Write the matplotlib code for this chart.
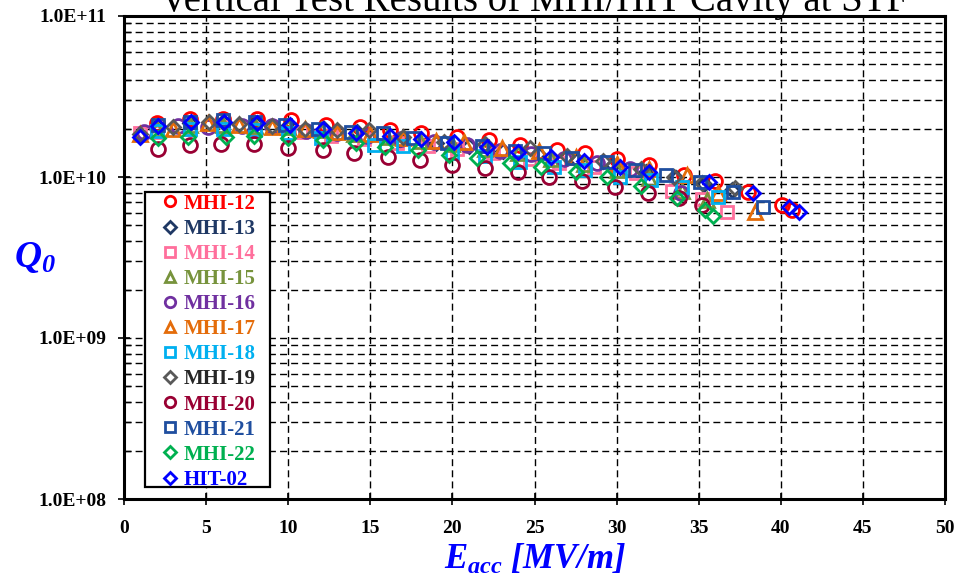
import numpy as np
import matplotlib
matplotlib.use("Agg")
import matplotlib.pyplot as plt
from matplotlib.patches import Rectangle
from matplotlib.ticker import FuncFormatter, LogLocator, MultipleLocator

plt.rcParams['font.family'] = ['Liberation Serif', 'DejaVu Serif']
plt.rcParams['mathtext.fontset'] = 'custom'
plt.rcParams['mathtext.it'] = 'Liberation Serif:bold:italic'
plt.rcParams['mathtext.rm'] = 'Liberation Serif:bold:italic'
plt.rcParams['mathtext.bf'] = 'Liberation Serif:bold:italic'

# data (E in MV/m, Q0)
labels = ["MHI-12", "MHI-13", "MHI-14", "MHI-15", "MHI-16", "MHI-17",
          "MHI-18", "MHI-19", "MHI-20", "MHI-21", "MHI-22", "HIT-02"]

e_mhi12 = [2.0, 4.0, 6.0, 8.1, 10.2, 12.3, 14.4, 16.2, 18.1, 20.3, 22.2, 24.1, 26.4, 28.1, 30.0, 32.0, 34.1, 36.0, 38.0, 40.1, 40.7]
q_mhi12 = [2.15e10, 2.3e10, 2.3e10, 2.3e10, 2.25e10, 2.1e10, 2.05e10, 1.97e10, 1.88e10, 1.78e10, 1.7e10, 1.57e10, 1.48e10, 1.4e10, 1.3e10, 1.19e10, 1.03e10, 9.5e9, 8.1e9, 6.7e9, 6.2e9]

e_mhi13 = [2.0, 4.0, 6.0, 8.0, 10.0, 12.2, 14.2, 16.8, 19.0, 21.0, 23.1, 25.2, 27.6, 29.8, 31.8, 33.6, 35.3, 37.0]
q_mhi13 = [2.08e10, 2.18e10, 2.2e10, 2.15e10, 2.08e10, 1.98e10, 1.9e10, 1.7e10, 1.62e10, 1.55e10, 1.45e10, 1.38e10, 1.28e10, 1.18e10, 1.08e10, 9.8e9, 9.0e9, 8.3e9]

e_mhi14 = [1.0, 2.0, 4.0, 6.0, 8.0, 10.8, 12.6, 14.6, 16.6, 18.5, 20.3, 22.5, 24.7, 26.5, 28.6, 31.2, 33.4, 35.2, 36.7]
q_mhi14 = [1.88e10, 1.9e10, 2.0e10, 2.05e10, 2.0e10, 1.9e10, 1.8e10, 1.72e10, 1.62e10, 1.55e10, 1.5e10, 1.4e10, 1.3e10, 1.22e10, 1.15e10, 1.06e10, 8.2e9, 7.3e9, 6.1e9]

e_mhi15 = [2.0, 4.0, 6.0, 8.0, 10.0, 12.0, 14.0, 16.0, 18.0, 20.0, 22.0, 24.0, 26.0, 28.0, 30.0, 32.0, 34.0, 35.5]
q_mhi15 = [2.0e10, 2.1e10, 2.1e10, 2.08e10, 2.03e10, 1.95e10, 1.85e10, 1.76e10, 1.68e10, 1.6e10, 1.5e10, 1.4e10, 1.3e10, 1.2e10, 1.1e10, 9.8e9, 8.2e9, 7.2e9]

e_mhi16 = [1.2, 3.3, 5.1, 7.2, 9.0, 11.1, 13.0, 14.8, 16.9, 18.9, 20.9, 22.9, 24.8, 26.8, 28.8, 30.8, 33.9]
q_mhi16 = [1.9e10, 2.07e10, 2.05e10, 2.07e10, 2.07e10, 1.92e10, 1.87e10, 1.8e10, 1.72e10, 1.66e10, 1.58e10, 1.46e10, 1.38e10, 1.3e10, 1.22e10, 1.12e10, 8.0e9]

e_mhi17 = [1.0, 3.0, 5.1, 7.0, 9.0, 11.0, 13.0, 15.0, 17.0, 19.0, 20.7, 23.0, 25.3, 27.5, 30.0, 32.0, 34.3, 36.2, 38.4]
q_mhi17 = [1.85e10, 2.0e10, 2.15e10, 2.1e10, 2.05e10, 1.98e10, 1.9e10, 1.85e10, 1.75e10, 1.68e10, 1.66e10, 1.52e10, 1.45e10, 1.33e10, 1.2e10, 1.12e10, 1.03e10, 8.0e9, 6.1e9]

e_mhi18 = [2.0, 4.0, 6.0, 8.0, 10.0, 12.0, 15.2, 17.0, 20.0, 22.0, 24.1, 26.2, 28.1, 30.2, 32.1, 34.0, 36.2]
q_mhi18 = [1.92e10, 1.98e10, 2.0e10, 1.95e10, 1.88e10, 1.75e10, 1.59e10, 1.55e10, 1.41e10, 1.35e10, 1.24e10, 1.15e10, 1.1e10, 1.0e10, 9.6e9, 8.7e9, 7.5e9]

e_mhi19 = [1.0, 3.0, 5.2, 7.0, 9.0, 11.0, 13.0, 14.9, 17.0, 19.5, 22.0, 24.7, 27.0, 29.2, 31.5, 33.5, 35.2, 37.2]
q_mhi19 = [1.85e10, 2.05e10, 2.2e10, 2.12e10, 2.08e10, 2.0e10, 1.95e10, 1.95e10, 1.78e10, 1.65e10, 1.6e10, 1.52e10, 1.35e10, 1.25e10, 1.12e10, 1.0e10, 9.2e9, 8.5e9]

e_mhi20 = [2.1, 4.0, 5.9, 7.9, 10.0, 12.1, 14.0, 16.1, 18.0, 20.0, 22.0, 24.0, 25.9, 27.9, 29.9, 31.9, 33.8, 35.2]
q_mhi20 = [1.5e10, 1.58e10, 1.6e10, 1.6e10, 1.51e10, 1.47e10, 1.4e10, 1.33e10, 1.28e10, 1.18e10, 1.14e10, 1.08e10, 1.0e10, 9.4e9, 8.7e9, 8.0e9, 7.4e9, 6.7e9]

e_mhi21 = [2.1, 4.0, 6.0, 8.0, 9.8, 11.8, 13.8, 15.8, 17.6, 19.7, 21.8, 23.8, 25.6, 27.3, 29.4, 31.1, 33.0, 35.1, 37.1, 38.9]
q_mhi21 = [2.1e10, 2.2e10, 2.25e10, 2.2e10, 2.1e10, 2.0e10, 1.9e10, 1.87e10, 1.75e10, 1.62e10, 1.55e10, 1.45e10, 1.4e10, 1.31e10, 1.24e10, 1.1e10, 1.03e10, 9.3e9, 8.1e9, 6.5e9]

e_mhi22 = [2.1, 3.9, 6.2, 7.9, 10.0, 12.1, 14.1, 15.9, 17.9, 19.8, 21.5, 23.5, 25.4, 27.5, 29.4, 31.5, 33.7, 35.4, 35.9]
q_mhi22 = [1.75e10, 1.78e10, 1.78e10, 1.8e10, 1.75e10, 1.7e10, 1.62e10, 1.54e10, 1.48e10, 1.37e10, 1.31e10, 1.22e10, 1.16e10, 1.08e10, 1.0e10, 8.8e9, 7.4e9, 6.2e9, 5.7e9]

e_hit02 = [1.0, 2.1, 4.1, 6.1, 8.1, 10.1, 12.1, 14.1, 16.2, 18.1, 20.1, 22.1, 24.0, 26.0, 28.0, 30.2, 32.0, 35.6, 38.3, 40.5, 41.1]
q_hit02 = [1.78e10, 2.07e10, 2.2e10, 2.2e10, 2.15e10, 2.1e10, 2.0e10, 1.88e10, 1.8e10, 1.72e10, 1.66e10, 1.54e10, 1.43e10, 1.33e10, 1.26e10, 1.16e10, 1.07e10, 9.3e9, 7.9e9, 6.5e9, 6.1e9]

e_all = [e_mhi12, e_mhi13, e_mhi14, e_mhi15, e_mhi16, e_mhi17,
         e_mhi18, e_mhi19, e_mhi20, e_mhi21, e_mhi22, e_hit02]
q_all = [q_mhi12, q_mhi13, q_mhi14, q_mhi15, q_mhi16, q_mhi17,
         q_mhi18, q_mhi19, q_mhi20, q_mhi21, q_mhi22, q_hit02]

markers = ['o', 'D', 's', '^', 'o', '^', 's', 'D', 'o', 's', 'D', 'D']
colors = ['#FF0000', '#1F3864', '#FF6F9C', '#77933C', '#7030A0', '#E46C0A',
          '#00B0F0', '#595959', '#990033', '#1F4E9F', '#00B050', '#0000FF']
text_colors = ['#FF0000', '#1F3864', '#FF6F9C', '#77933C', '#7030A0', '#E46C0A',
               '#00B0F0', '#262626', '#990033', '#1F4E9F', '#00B050', '#0000FF']
msizes = [10, 7.5, 9, 9.5, 10, 9.5, 9, 7.5, 10, 9, 7.5, 7.5]

fig = plt.figure(figsize=(9.6, 5.76), dpi=100)
ax = fig.add_axes([124 / 960, 77 / 576, 821 / 960, 483 / 576])

for e, q, m, c, ms, lab in zip(e_all, q_all, markers, colors, msizes, labels):
    ax.plot(e, q, linestyle='none', marker=m, markersize=ms, markerfacecolor='none',
            markeredgecolor=c, markeredgewidth=2.0, label=lab)

ax.set_yscale('log')
ax.set_ylim(1e8, 1e11)
ax.set_xlim(0, 50)
ax.xaxis.set_major_locator(MultipleLocator(5))
ax.yaxis.set_major_locator(LogLocator(base=10))
ax.yaxis.set_minor_locator(LogLocator(base=10, subs=np.arange(2, 10)))
ax.yaxis.set_major_formatter(FuncFormatter(lambda v, p: '%.1E' % v))
ax.yaxis.set_minor_formatter(FuncFormatter(lambda v, p: ''))

dash = (0, (5, 3))
ax.grid(True, which='major', axis='x', color='black', linestyle=dash, linewidth=1.0)
ax.grid(True, which='both', axis='y', color='black', linestyle=dash, linewidth=1.0)
ax.set_axisbelow(True)

for s in ax.spines.values():
    s.set_linewidth(2.2)

ax.tick_params(axis='both', which='major', direction='inout', length=8, width=1.2,
               labelsize=14)
ax.tick_params(axis='x', which='major', pad=11)
ax.tick_params(axis='y', which='major', pad=9)
ax.tick_params(axis='y', which='minor', direction='in', length=5, width=1.0)
for t in ax.get_xticklabels() + ax.get_yticklabels():
    t.set_fontweight('bold')

ax.set_xlabel(r'$E_{acc}$ [MV/m]', fontsize=25, color='#0000FF', fontweight='bold',
              fontstyle='italic')
ax.xaxis.set_label_coords(0.5, -0.09)
ax.set_ylabel(r'$Q_0$', fontsize=27, color='#0000FF', rotation=0)
ax.yaxis.set_label_coords(-0.108, 0.5)
ax.yaxis.label.set_va('center')
ax.yaxis.label.set_ha('center')

# legend without its own frame, box drawn separately
leg = ax.legend(loc='upper left', bbox_to_anchor=(0.0446, 0.632), borderaxespad=0,
                frameon=False, labelcolor=text_colors,
                prop={'weight': 'bold', 'size': 15},
                handlelength=0.9, handletextpad=0.2, labelspacing=0.245,
                borderpad=0, markerscale=0.75)
leg.set_zorder(6)
box = Rectangle((0.0256, 0.0248), 0.1522, 0.6108, transform=ax.transAxes,
                facecolor='white', edgecolor='black', linewidth=1.6, zorder=5)
ax.add_patch(box)

fig.text(0.556, 1 - 11 / 576, 'Vertical Test Results of MHI/HIT Cavity at STF',
         ha='center', va='baseline', fontsize=28, color='black')

fig.savefig('out.png', dpi=100)
